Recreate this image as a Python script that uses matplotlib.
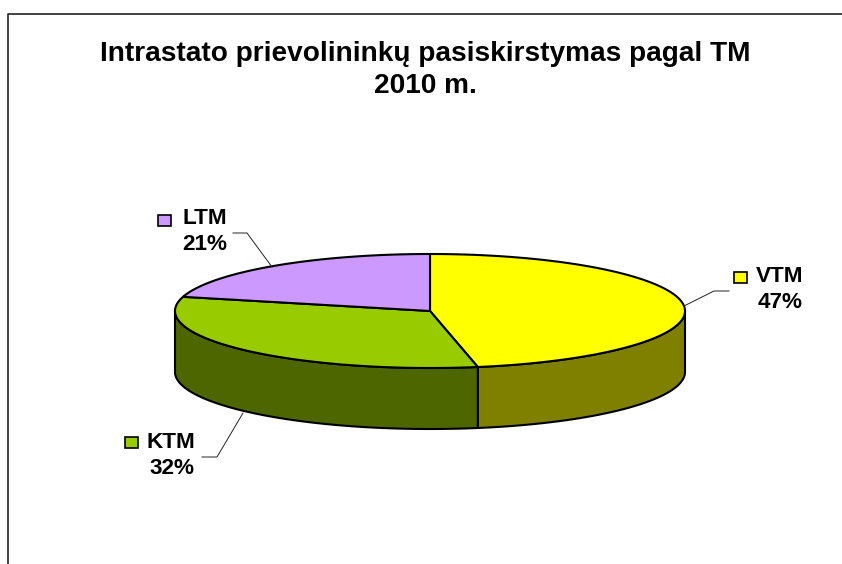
import numpy as np
import matplotlib
matplotlib.use('Agg')
import matplotlib.pyplot as plt
from matplotlib.patches import Polygon, Rectangle

# Data
labels = ['VTM', 'KTM', 'LTM']
values = [47, 32, 21]
top_colors = ['#FFFF00', '#99CC00', '#CC99FF']
side_colors = ['#808000', '#4D6600', '#66487F']
title = 'Intrastato prievolininkų pasiskirstymas pagal TM\n2010 m.'

plt.rcParams['font.family'] = ['Liberation Sans', 'DejaVu Sans']

# Axes in pixel coordinates of the image
fig = plt.figure(figsize=(8.42, 5.64), dpi=100)
ax = fig.add_axes([0, 0, 1, 1])
ax.set_xlim(0, 842)
ax.set_ylim(564, 0)
ax.axis('off')

# Pie geometry
cx, cy = 430, 311
rx, ry = 255, 57
depth = 61
lw = 1.5


def rim(a0, a1, dy=0):
    # angles are clockwise from the top of the pie
    t = np.radians(np.linspace(a0, a1, 200))
    return np.column_stack([cx + rx * np.sin(t), cy - ry * np.cos(t) + dy])


edges = np.cumsum([0] + values) / sum(values) * 360

# Side walls, only the front half of the rim is visible
for i in range(len(values)):
    a0 = max(edges[i], 90)
    a1 = min(edges[i + 1], 270)
    if a1 <= a0:
        continue
    pts = np.vstack([rim(a0, a1), rim(a0, a1, depth)[::-1]])
    ax.add_patch(Polygon(pts, closed=True, facecolor=side_colors[i],
                         edgecolor='black', linewidth=lw, joinstyle='round'))

# Top slices
for i in range(len(values)):
    pts = np.vstack([[cx, cy], rim(edges[i], edges[i + 1])])
    ax.add_patch(Polygon(pts, closed=True, facecolor=top_colors[i],
                         edgecolor='black', linewidth=lw, joinstyle='round'))

# Frame, only top and left are visible
ax.plot([8, 8, 842], [564, 14, 14], color='#222222', linewidth=1.2, clip_on=False)

ax.text(425, 70, title, ha='center', va='center', fontsize=20.2,
        fontweight='bold', color='black', linespacing=1.3)

# Label positions: key x, key y, right edge of text, name y, percent y
label_pos = {
    'VTM': (734, 272, 803, 277, 303),
    'KTM': (125, 437, 195, 442, 469),
    'LTM': (158, 215, 227, 219, 245),
}
leaders = {
    'VTM': ([729, 714, 684], [291, 291, 306]),
    'KTM': ([202, 217, 243], [457, 457, 413]),
    'LTM': ([233, 247, 272], [233, 233, 267]),
}

for name, val, col in zip(labels, values, top_colors):
    kx, ky, tx, ny, py = label_pos[name]
    ax.add_patch(Rectangle((kx, ky), 13, 11, facecolor=col, edgecolor='black', linewidth=1.2))
    ax.text(tx, ny, name, ha='right', va='center', fontsize=16.2, fontweight='bold', color='black')
    ax.text(tx, py, f'{val}%', ha='right', va='center', fontsize=16.2, fontweight='bold', color='black')
    ax.plot(leaders[name][0], leaders[name][1], color='#222222', linewidth=0.7)

fig.savefig('out.png', dpi=100)
